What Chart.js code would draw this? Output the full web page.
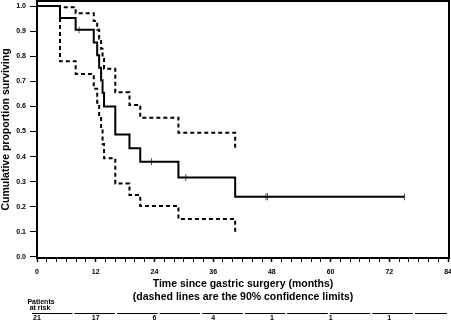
<!DOCTYPE html>
<html>
<head>
<meta charset="utf-8">
<script src="https://cdn.jsdelivr.net/npm/chart.js@4.4.1/dist/chart.umd.min.js"></script>
<style>
  html, body { margin: 0; padding: 0; background: #fff; }
</style>
</head>
<body>
<canvas id="kmChart" width="451" height="321"></canvas>
<script>
// Kaplan-Meier estimate (months, proportion surviving)
const kmTimes = [0, 4.7, 7.9, 11.6, 12.3, 12.7, 13.1, 13.4, 13.7, 16.0, 18.9, 21.1, 28.9, 40.5, 75.1];
const kmSurv  = [1.0, 0.952, 0.905, 0.855, 0.804, 0.754, 0.704, 0.654, 0.600, 0.488, 0.433, 0.380, 0.317, 0.240, 0.240];

// 90% confidence limits (dashed)
const ciTimes = [0, 4.7, 7.9, 11.6, 12.3, 12.7, 13.1, 13.4, 13.7, 16.0, 18.9, 21.1, 28.9, 40.5];
const upperCI = [1.0, 0.995, 0.971, 0.94, 0.905, 0.87, 0.83, 0.79, 0.75, 0.656, 0.606, 0.555, 0.495, 0.426];
const lowerCI = [1.0, 0.78, 0.729, 0.67, 0.615, 0.56, 0.51, 0.45, 0.393, 0.293, 0.247, 0.203, 0.151, 0.094];

// censored observations
const censorTimes = [8.6, 23.4, 30.4, 46.8, 47.1, 75.1];
const censorSurv  = [0.905, 0.380, 0.317, 0.240, 0.240, 0.240];

// patients at risk table
const riskTimes = [0, 12, 24, 36, 48, 60, 72];
const atRisk    = [21, 17, 6, 4, 1, 1, 1];

// axis ticks
const xMajorTicks = [0, 12, 24, 36, 48, 60, 72, 84];
const xMinorStep = 2;
const yTicks = [0.0, 0.1, 0.2, 0.3, 0.4, 0.5, 0.6, 0.7, 0.8, 0.9, 1.0];

const FONT = '"Liberation Sans", Arial, sans-serif';

function toPoints(xs, ys) {
    return xs.map((x, i) => ({ x: x, y: ys[i] }));
}

const xTickValues = [];
for (let v = 0; v <= xMajorTicks[xMajorTicks.length - 1]; v += xMinorStep) xTickValues.push(v);

// frame around the plot + patients at risk table
const extrasPlugin = {
    id: 'extras',
    afterDraw(chart) {
        const ctx = chart.ctx;
        const a = chart.chartArea;
        const xScale = chart.scales.x;
        ctx.save();
        ctx.strokeStyle = '#000';
        ctx.lineWidth = 2;
        ctx.strokeRect(a.left, a.top, a.right - a.left, a.bottom - a.top);

        ctx.fillStyle = '#000';
        ctx.font = 'bold 7px ' + FONT;
        ctx.textAlign = 'center';
        ctx.textBaseline = 'middle';
        ctx.fillText('Patients', 41, 302.5);
        ctx.fillText('at risk', 40, 308);

        ctx.lineWidth = 1;
        ctx.setLineDash([40.5, 2.05]);
        ctx.beginPath();
        ctx.moveTo(32, 313.5);
        ctx.lineTo(447, 313.5);
        ctx.stroke();
        ctx.setLineDash([]);

        riskTimes.forEach((t, i) => {
            ctx.fillText(String(atRisk[i]), xScale.getPixelForValue(t), 318.5);
        });
        ctx.restore();
    }
};

const ctx = document.getElementById('kmChart').getContext('2d');

const chart = new Chart(ctx, {
    type: 'line',
    data: {
        datasets: [
            {
                label: 'Survival',
                data: toPoints(kmTimes, kmSurv),
                borderColor: '#000',
                borderWidth: 2,
                stepped: true,
                pointRadius: 0,
                fill: false
            },
            {
                label: 'Censored',
                data: toPoints(censorTimes, censorSurv),
                showLine: false,
                pointStyle: 'line',
                pointRotation: 90,
                pointRadius: 3.5,
                pointBorderWidth: 1,
                pointBorderColor: '#555',
                borderColor: '#555'
            },
            {
                label: 'Upper 90% limit',
                data: toPoints(ciTimes, upperCI),
                borderColor: '#000',
                borderWidth: 2,
                borderDash: [4, 3],
                stepped: true,
                pointRadius: 0,
                fill: false
            },
            {
                label: 'Lower 90% limit',
                data: toPoints(ciTimes, lowerCI),
                borderColor: '#000',
                borderWidth: 2,
                borderDash: [4, 3],
                stepped: true,
                pointRadius: 0,
                fill: false
            }
        ]
    },
    options: {
        responsive: false,
        animation: false,
        layout: { autoPadding: false, padding: { left: 0, right: 2, top: 1, bottom: 17 } },
        plugins: {
            legend: { display: false },
            tooltip: { enabled: false }
        },
        scales: {
            x: {
                type: 'linear',
                min: 0,
                max: 84.2,
                afterBuildTicks: scale => { scale.ticks = xTickValues.map(v => ({ value: v })); },
                afterFit: scale => {
                    scale.height = 46;
                    scale.paddingLeft = 0;
                    scale.paddingRight = 0;
                },
                grid: {
                    drawOnChartArea: false,
                    drawTicks: true,
                    tickLength: 4,
                    tickColor: '#000',
                    tickWidth: c => (c.tick && c.tick.value % 12 === 0 ? 1.5 : 1)
                },
                border: { display: false },
                ticks: {
                    autoSkip: false,
                    maxRotation: 0,
                    padding: 6,
                    color: '#000',
                    font: { family: FONT, size: 7, weight: 'bold' },
                    callback: v => (xMajorTicks.includes(v) ? String(v) : '')
                },
                title: {
                    display: true,
                    text: ['Time since gastric surgery (months)', '(dashed lines are the 90% confidence limits)'],
                    color: '#000',
                    padding: { top: 0, bottom: 0 },
                    font: { family: FONT, size: 10.5, weight: 'bold', lineHeight: 1.29 }
                }
            },
            y: {
                min: -0.004,
                max: 1.02,
                afterBuildTicks: scale => { scale.ticks = yTicks.map(v => ({ value: v })); },
                afterFit: scale => {
                    scale.width = 37;
                    scale.paddingTop = 0;
                    scale.paddingBottom = 0;
                },
                grid: {
                    drawOnChartArea: false,
                    drawTicks: true,
                    tickLength: 7,
                    tickColor: '#000'
                },
                border: { display: false },
                ticks: {
                    padding: 4,
                    color: '#000',
                    font: { family: FONT, size: 7, weight: 'bold' },
                    callback: v => v.toFixed(1)
                },
                title: {
                    display: true,
                    text: 'Cumulative proportion surviving',
                    color: '#000',
                    padding: { top: 0, bottom: 0 },
                    font: { family: FONT, size: 10.5, weight: 'bold' }
                }
            }
        }
    },
    plugins: [extrasPlugin]
});
</script>
</body>
</html>
